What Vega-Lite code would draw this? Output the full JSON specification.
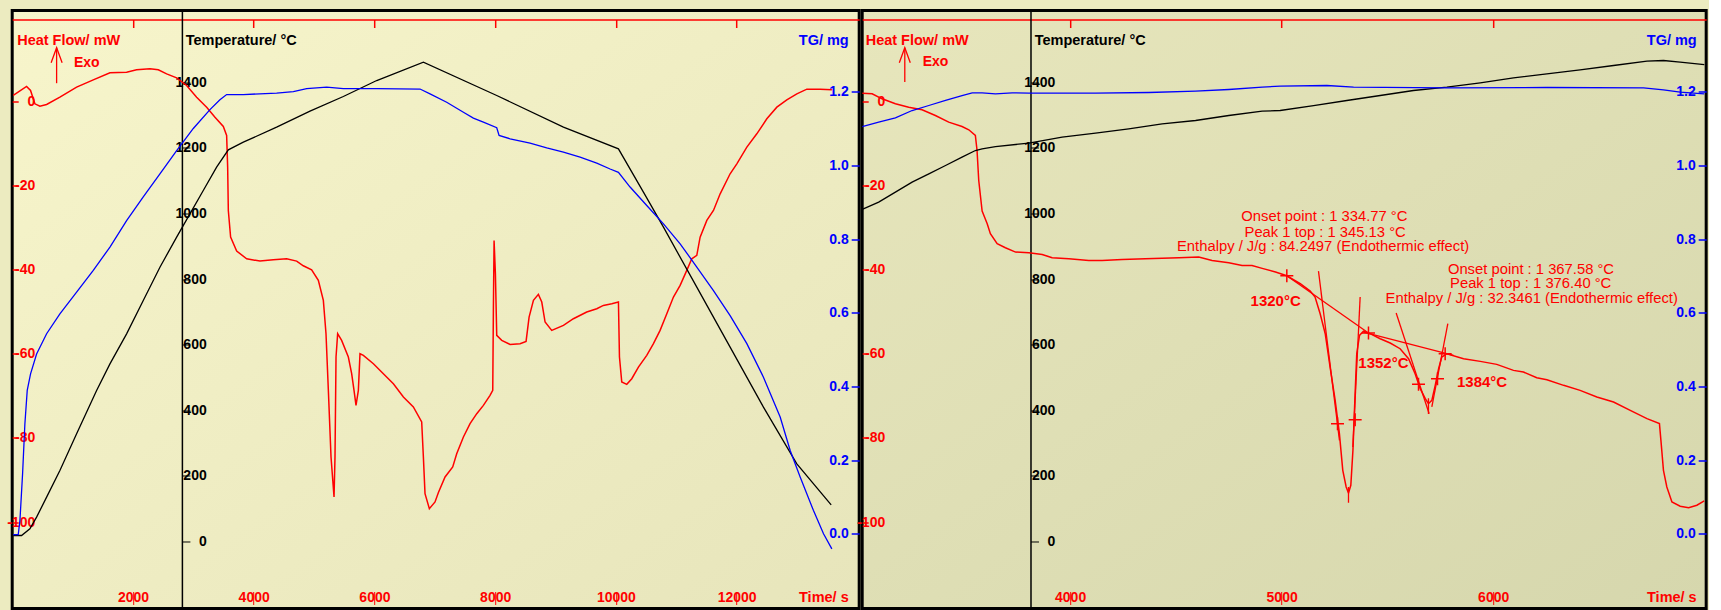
{
  "$schema": "https://vega.github.io/schema/vega-lite/v6.json",
  "background": "#ecebc0",
  "padding": {"left": 4.2, "top": 8.5, "right": 0, "bottom": 0},
  "spacing": 3,
  "bounds": "flush",
  "config": {
    "font": "Liberation Sans",
    "view": {"stroke": "black", "strokeWidth": 3},
    "axis": {
      "grid": false,
      "labelFont": "Liberation Sans",
      "labelFontWeight": "bold",
      "labelFontSize": 14,
      "titleFont": "Liberation Sans",
      "titleFontWeight": "bold",
      "titleFontSize": 14.5,
      "titleAngle": 0,
      "labelFlush": false,
      "labelOverlap": false,
      "minExtent": 0
    }
  },
  "datasets": {
    "l_hf": [
      {"t": 17, "hf": 1.43}, {"t": 238, "hf": 3.57}, {"t": 304, "hf": 2.62}, {"t": 376, "hf": -0.55},
      {"t": 459, "hf": -1.11}, {"t": 570, "hf": -0.71}, {"t": 790, "hf": 1.03}, {"t": 1067, "hf": 3.41},
      {"t": 1343, "hf": 5.15}, {"t": 1619, "hf": 6.81}, {"t": 1895, "hf": 6.97}, {"t": 2061, "hf": 7.53},
      {"t": 2282, "hf": 7.77}, {"t": 2420, "hf": 7.53}, {"t": 2558, "hf": 6.58}, {"t": 2724, "hf": 5.63},
      {"t": 2889, "hf": 3.8}, {"t": 3055, "hf": 1.03}, {"t": 3221, "hf": -1.35}, {"t": 3359, "hf": -3.72},
      {"t": 3497, "hf": -5.94}, {"t": 3552, "hf": -8.08}, {"t": 3569, "hf": -15.61}, {"t": 3580, "hf": -25.91},
      {"t": 3618, "hf": -32.24}, {"t": 3718, "hf": -35.57}, {"t": 3884, "hf": -37.4}, {"t": 4104, "hf": -37.95},
      {"t": 4325, "hf": -37.63}, {"t": 4546, "hf": -37.4}, {"t": 4712, "hf": -37.95}, {"t": 4822, "hf": -39.06},
      {"t": 4960, "hf": -40.01}, {"t": 5071, "hf": -42.55}, {"t": 5154, "hf": -47.3}, {"t": 5198, "hf": -55.22},
      {"t": 5237, "hf": -68.69}, {"t": 5281, "hf": -84.54}, {"t": 5331, "hf": -94.05}, {"t": 5347, "hf": -84.54},
      {"t": 5364, "hf": -60.77}, {"t": 5391, "hf": -55.22}, {"t": 5457, "hf": -56.81}, {"t": 5568, "hf": -60.77},
      {"t": 5623, "hf": -64.73}, {"t": 5662, "hf": -68.69}, {"t": 5695, "hf": -72.26}, {"t": 5734, "hf": -68.69},
      {"t": 5761, "hf": -59.98}, {"t": 5817, "hf": -60.37}, {"t": 5983, "hf": -62.35}, {"t": 6148, "hf": -64.73},
      {"t": 6314, "hf": -67.11}, {"t": 6480, "hf": -70.28}, {"t": 6645, "hf": -72.65}, {"t": 6783, "hf": -76.22},
      {"t": 6811, "hf": -84.54}, {"t": 6838, "hf": -93.25}, {"t": 6910, "hf": -96.82}, {"t": 7004, "hf": -95.24},
      {"t": 7060, "hf": -93.0}, {"t": 7170, "hf": -89.29}, {"t": 7297, "hf": -86.91}, {"t": 7363, "hf": -83.75},
      {"t": 7474, "hf": -79.78}, {"t": 7584, "hf": -76.61}, {"t": 7695, "hf": -74.24}, {"t": 7805, "hf": -72.26},
      {"t": 7915, "hf": -69.88}, {"t": 7960, "hf": -68.69}, {"t": 7971, "hf": -48.88}, {"t": 7982, "hf": -33.04},
      {"t": 8004, "hf": -40.96}, {"t": 8026, "hf": -55.62}, {"t": 8109, "hf": -56.81}, {"t": 8247, "hf": -57.76},
      {"t": 8413, "hf": -57.6}, {"t": 8512, "hf": -57.04}, {"t": 8562, "hf": -51.26}, {"t": 8634, "hf": -47.3},
      {"t": 8716, "hf": -45.87}, {"t": 8772, "hf": -47.69}, {"t": 8827, "hf": -52.45}, {"t": 8937, "hf": -54.43},
      {"t": 9131, "hf": -53.24}, {"t": 9296, "hf": -51.66}, {"t": 9517, "hf": -50.07}, {"t": 9683, "hf": -49.28},
      {"t": 9793, "hf": -48.49}, {"t": 9932, "hf": -48.09}, {"t": 10042, "hf": -47.69}, {"t": 10059, "hf": -60.77},
      {"t": 10097, "hf": -66.71}, {"t": 10180, "hf": -67.27}, {"t": 10263, "hf": -65.92}, {"t": 10373, "hf": -63.15},
      {"t": 10511, "hf": -60.37}, {"t": 10622, "hf": -57.6}, {"t": 10732, "hf": -54.43}, {"t": 10843, "hf": -50.47},
      {"t": 10953, "hf": -46.51}, {"t": 11064, "hf": -43.73}, {"t": 11174, "hf": -40.17}, {"t": 11257, "hf": -37.4},
      {"t": 11340, "hf": -36.6}, {"t": 11395, "hf": -32.25}, {"t": 11506, "hf": -28.28}, {"t": 11616, "hf": -25.91},
      {"t": 11727, "hf": -21.95}, {"t": 11892, "hf": -17.19}, {"t": 12003, "hf": -14.82}, {"t": 12169, "hf": -10.85},
      {"t": 12334, "hf": -7.68}, {"t": 12500, "hf": -4.12}, {"t": 12666, "hf": -1.35}, {"t": 12831, "hf": 0.4},
      {"t": 12997, "hf": 1.82}, {"t": 13163, "hf": 2.93}, {"t": 13383, "hf": 2.93}, {"t": 13577, "hf": 2.77}
    ],
    "l_temp": [
      {"t": 17, "temp": 18.3}, {"t": 155, "temp": 18.3}, {"t": 293, "temp": 38.6}, {"t": 404, "temp": 74.2},
      {"t": 570, "temp": 135.2}, {"t": 790, "temp": 216.4}, {"t": 1067, "temp": 328.2}, {"t": 1398, "temp": 460.3},
      {"t": 1619, "temp": 541.6}, {"t": 1895, "temp": 633.1}, {"t": 2171, "temp": 734.7}, {"t": 2447, "temp": 836.3},
      {"t": 2724, "temp": 927.8}, {"t": 2944, "temp": 998.9}, {"t": 3165, "temp": 1070.1}, {"t": 3386, "temp": 1141.2},
      {"t": 3580, "temp": 1194.1}, {"t": 3828, "temp": 1217.4}, {"t": 4380, "temp": 1263.2}, {"t": 4933, "temp": 1311.9},
      {"t": 5485, "temp": 1356.7}, {"t": 6038, "temp": 1405.4}, {"t": 6811, "temp": 1461.3}, {"t": 8026, "temp": 1359.7},
      {"t": 9131, "temp": 1263.2}, {"t": 10042, "temp": 1197.1}, {"t": 10456, "temp": 1065.0}, {"t": 10788, "temp": 958.3},
      {"t": 11340, "temp": 775.4}, {"t": 11892, "temp": 592.4}, {"t": 12444, "temp": 409.5}, {"t": 12997, "temp": 236.7},
      {"t": 13566, "temp": 111.8}
    ],
    "l_tg": [
      {"t": 17, "tg": -0.002}, {"t": 100, "tg": -0.002}, {"t": 128, "tg": 0.036}, {"t": 172, "tg": 0.163},
      {"t": 210, "tg": 0.298}, {"t": 249, "tg": 0.389}, {"t": 304, "tg": 0.434}, {"t": 404, "tg": 0.488},
      {"t": 570, "tg": 0.543}, {"t": 790, "tg": 0.597}, {"t": 1067, "tg": 0.656}, {"t": 1343, "tg": 0.715},
      {"t": 1619, "tg": 0.778}, {"t": 1895, "tg": 0.85}, {"t": 2171, "tg": 0.914}, {"t": 2447, "tg": 0.977},
      {"t": 2724, "tg": 1.04}, {"t": 3000, "tg": 1.1}, {"t": 3276, "tg": 1.151}, {"t": 3441, "tg": 1.178},
      {"t": 3552, "tg": 1.192}, {"t": 3828, "tg": 1.192}, {"t": 4380, "tg": 1.196}, {"t": 4657, "tg": 1.2},
      {"t": 4878, "tg": 1.208}, {"t": 5209, "tg": 1.212}, {"t": 5485, "tg": 1.208}, {"t": 6038, "tg": 1.208},
      {"t": 6756, "tg": 1.207}, {"t": 6921, "tg": 1.194}, {"t": 7197, "tg": 1.171}, {"t": 7474, "tg": 1.144},
      {"t": 7639, "tg": 1.128}, {"t": 7805, "tg": 1.117}, {"t": 8026, "tg": 1.102}, {"t": 8065, "tg": 1.081},
      {"t": 8247, "tg": 1.072}, {"t": 8578, "tg": 1.06}, {"t": 8854, "tg": 1.047}, {"t": 9131, "tg": 1.036},
      {"t": 9407, "tg": 1.022}, {"t": 9683, "tg": 1.006}, {"t": 9904, "tg": 0.99}, {"t": 10042, "tg": 0.981},
      {"t": 10235, "tg": 0.941}, {"t": 10511, "tg": 0.891}, {"t": 10788, "tg": 0.841}, {"t": 11064, "tg": 0.787},
      {"t": 11340, "tg": 0.724}, {"t": 11616, "tg": 0.66}, {"t": 11892, "tg": 0.592}, {"t": 12169, "tg": 0.516},
      {"t": 12444, "tg": 0.425}, {"t": 12721, "tg": 0.317}, {"t": 12887, "tg": 0.226}, {"t": 13052, "tg": 0.154},
      {"t": 13273, "tg": 0.063}, {"t": 13439, "tg": 0.0}, {"t": 13577, "tg": -0.041}
    ],
    "r_hf": [
      {"t": 3017, "hf": 1.98}, {"t": 3064, "hf": 1.82}, {"t": 3111, "hf": 0.64}, {"t": 3174, "hf": -0.55},
      {"t": 3237, "hf": -1.35}, {"t": 3300, "hf": -1.98}, {"t": 3363, "hf": -3.33}, {"t": 3426, "hf": -4.91},
      {"t": 3489, "hf": -5.94}, {"t": 3521, "hf": -6.73}, {"t": 3552, "hf": -8.08}, {"t": 3560, "hf": -11.65},
      {"t": 3568, "hf": -18.78}, {"t": 3584, "hf": -26.07}, {"t": 3608, "hf": -29.08}, {"t": 3623, "hf": -31.45},
      {"t": 3655, "hf": -33.83}, {"t": 3694, "hf": -34.78}, {"t": 3742, "hf": -35.81}, {"t": 3805, "hf": -35.97},
      {"t": 3868, "hf": -36.37}, {"t": 3915, "hf": -37.16}, {"t": 3994, "hf": -37.4}, {"t": 4088, "hf": -37.79},
      {"t": 4151, "hf": -37.79}, {"t": 4246, "hf": -37.55}, {"t": 4356, "hf": -37.4}, {"t": 4514, "hf": -37.16},
      {"t": 4608, "hf": -37.0}, {"t": 4671, "hf": -37.79}, {"t": 4750, "hf": -38.35}, {"t": 4813, "hf": -38.98},
      {"t": 4860, "hf": -38.98}, {"t": 4908, "hf": -39.69}, {"t": 4971, "hf": -40.56}, {"t": 5024, "hf": -41.44},
      {"t": 5088, "hf": -43.34}, {"t": 5135, "hf": -45.08}, {"t": 5158, "hf": -46.51}, {"t": 5182, "hf": -50.47},
      {"t": 5206, "hf": -55.22}, {"t": 5229, "hf": -63.15}, {"t": 5253, "hf": -71.07}, {"t": 5273, "hf": -78.99},
      {"t": 5289, "hf": -87.71}, {"t": 5305, "hf": -91.67}, {"t": 5316, "hf": -93.09}, {"t": 5327, "hf": -91.27},
      {"t": 5337, "hf": -82.95}, {"t": 5346, "hf": -71.07}, {"t": 5355, "hf": -59.98}, {"t": 5368, "hf": -55.62},
      {"t": 5387, "hf": -54.59}, {"t": 5418, "hf": -55.22}, {"t": 5466, "hf": -56.41}, {"t": 5513, "hf": -57.44},
      {"t": 5560, "hf": -58.79}, {"t": 5600, "hf": -61.16}, {"t": 5631, "hf": -64.73}, {"t": 5655, "hf": -68.29},
      {"t": 5679, "hf": -70.67}, {"t": 5694, "hf": -71.86}, {"t": 5710, "hf": -71.07}, {"t": 5726, "hf": -67.5},
      {"t": 5742, "hf": -63.54}, {"t": 5757, "hf": -60.77}, {"t": 5781, "hf": -59.98}, {"t": 5860, "hf": -61.16},
      {"t": 5939, "hf": -61.8}, {"t": 6017, "hf": -62.51}, {"t": 6096, "hf": -63.94}, {"t": 6143, "hf": -64.33},
      {"t": 6206, "hf": -65.68}, {"t": 6254, "hf": -66.16}, {"t": 6333, "hf": -67.5}, {"t": 6411, "hf": -68.69},
      {"t": 6490, "hf": -70.28}, {"t": 6569, "hf": -71.46}, {"t": 6648, "hf": -73.45}, {"t": 6727, "hf": -75.43},
      {"t": 6786, "hf": -76.61}, {"t": 6793, "hf": -80.58}, {"t": 6805, "hf": -87.71}, {"t": 6821, "hf": -91.67},
      {"t": 6845, "hf": -95.23}, {"t": 6884, "hf": -96.26}, {"t": 6924, "hf": -96.58}, {"t": 6963, "hf": -96.02},
      {"t": 6998, "hf": -94.99}
    ],
    "r_temp": [
      {"t": 3017, "temp": 1012.2}, {"t": 3095, "temp": 1034.5}, {"t": 3174, "temp": 1065.0}, {"t": 3253, "temp": 1095.5},
      {"t": 3332, "temp": 1120.9}, {"t": 3411, "temp": 1146.3}, {"t": 3489, "temp": 1171.7}, {"t": 3552, "temp": 1192.0},
      {"t": 3584, "temp": 1197.1}, {"t": 3647, "temp": 1204.2}, {"t": 3805, "temp": 1214.4}, {"t": 3962, "temp": 1232.7},
      {"t": 4120, "temp": 1244.9}, {"t": 4277, "temp": 1258.1}, {"t": 4435, "temp": 1273.3}, {"t": 4593, "temp": 1283.5},
      {"t": 4750, "temp": 1298.8}, {"t": 4908, "temp": 1312.0}, {"t": 4993, "temp": 1314.0}, {"t": 5151, "temp": 1329.2},
      {"t": 5308, "temp": 1344.5}, {"t": 5466, "temp": 1359.7}, {"t": 5623, "temp": 1375.0}, {"t": 5781, "temp": 1385.1},
      {"t": 5939, "temp": 1398.3}, {"t": 6096, "temp": 1413.6}, {"t": 6254, "temp": 1425.8}, {"t": 6411, "temp": 1438.0},
      {"t": 6569, "temp": 1451.2}, {"t": 6727, "temp": 1464.4}, {"t": 6805, "temp": 1466.4}, {"t": 6884, "temp": 1461.3},
      {"t": 6998, "temp": 1454.2}
    ],
    "r_tg": [
      {"t": 3017, "tg": 1.1053}, {"t": 3095, "tg": 1.1171}, {"t": 3174, "tg": 1.1288}, {"t": 3253, "tg": 1.1487},
      {"t": 3332, "tg": 1.1623}, {"t": 3411, "tg": 1.1759}, {"t": 3489, "tg": 1.1894}, {"t": 3537, "tg": 1.1967},
      {"t": 3584, "tg": 1.1967}, {"t": 3647, "tg": 1.194}, {"t": 3726, "tg": 1.1967}, {"t": 3805, "tg": 1.1958},
      {"t": 4120, "tg": 1.1958}, {"t": 4372, "tg": 1.1976}, {"t": 4593, "tg": 1.2012}, {"t": 4750, "tg": 1.2057},
      {"t": 4908, "tg": 1.2121}, {"t": 4993, "tg": 1.2148}, {"t": 5214, "tg": 1.2166}, {"t": 5340, "tg": 1.2121},
      {"t": 5781, "tg": 1.2103}, {"t": 6254, "tg": 1.2112}, {"t": 6711, "tg": 1.2103}, {"t": 6805, "tg": 1.2048},
      {"t": 6884, "tg": 1.1985}, {"t": 6998, "tg": 1.194}
    ],
    "l_arrow": [
      {"part": "shaft", "t": 735.7, "hf": 4.35}, {"part": "shaft", "t": 735.7, "hf": 12.8},
      {"part": "head", "t": 645, "hf": 9.2}, {"part": "head", "t": 735.7, "hf": 12.8}, {"part": "head", "t": 827, "hf": 9.2}
    ],
    "r_arrow": [
      {"part": "shaft", "t": 3218.4, "hf": 4.66}, {"part": "shaft", "t": 3218.4, "hf": 12.8},
      {"part": "head", "t": 3192.4, "hf": 9.2}, {"part": "head", "t": 3218.4, "hf": 12.8}, {"part": "head", "t": 3244.4, "hf": 9.2}
    ],
    "l_exo": [{"t": 1022, "hf": 9.1, "txt": "Exo"}],
    "r_exo": [{"t": 3303, "hf": 9.5, "txt": "Exo"}],
    "r_notes": [
      {"t": 5202, "hf": -27.4, "txt": "Onset point : 1 334.77  °C"},
      {"t": 5205.6, "hf": -31.2, "txt": "Peak 1 top : 1 345.13  °C"},
      {"t": 5196, "hf": -34.7, "txt": "Enthalpy / J/g : 84.2497 (Endothermic effect)"},
      {"t": 6178.7, "hf": -40.1, "txt": "Onset point : 1 367.58  °C"},
      {"t": 6177.3, "hf": -43.4, "txt": "Peak 1 top : 1 376.40  °C"},
      {"t": 6182, "hf": -47.0, "txt": "Enthalpy / J/g : 32.3461 (Endothermic effect)"}
    ],
    "r_peaks": [
      {"t": 4971.6, "hf": -47.49, "txt": "1320°C"},
      {"t": 5481, "hf": -62.16, "txt": "1352°C"},
      {"t": 5947.5, "hf": -66.79, "txt": "1384°C"}
    ],
    "r_segs": [
      {"seg": "L1", "t": 5174.1, "hf": -40.33}, {"seg": "L1", "t": 5273.4, "hf": -80.58},
      {"seg": "L2", "t": 5336.5, "hf": -82.16}, {"seg": "L2", "t": 5371.1, "hf": -46.51},
      {"seg": "L3", "t": 5541.3, "hf": -50.31}, {"seg": "L3", "t": 5697.4, "hf": -74.24},
      {"seg": "L4", "t": 5710, "hf": -72.65}, {"seg": "L4", "t": 5785.6, "hf": -52.85},
      {"seg": "B1", "t": 5024.4, "hf": -41.44}, {"seg": "B1", "t": 5410.5, "hf": -55.06},
      {"seg": "B2", "t": 5386.9, "hf": -54.82}, {"seg": "B2", "t": 5812.4, "hf": -60.37},
      {"seg": "P1", "t": 5316, "hf": -91.7}, {"seg": "P1", "t": 5316.01, "hf": -95.4},
      {"seg": "P2", "t": 5694, "hf": -70.6}, {"seg": "P2", "t": 5694.01, "hf": -74.3}
    ],
    "r_cross": [
      {"t": 5024.4, "hf": -41.44}, {"t": 5410.5, "hf": -55.06}, {"t": 5773, "hf": -59.98},
      {"t": 5264, "hf": -76.61}, {"t": 5347.5, "hf": -75.66}, {"t": 5647, "hf": -67.27}, {"t": 5736.8, "hf": -65.92}
    ]
  },
  "hconcat": [
    {
      "width": 847,
      "height": 598,
      "view": {"fill": {"gradient": "linear", "x1": 0, "y1": 0, "x2": 1, "y2": 1, "stops": [{"offset": 0, "color": "#f7f5cb"}, {"offset": 1, "color": "#e7e5bb"}]}},
      "resolve": {"scale": {"y": "independent"}, "axis": {"x": "independent"}},
      "layer": [
        {
          "data": {"name": "l_hf"},
          "mark": {"type": "line", "color": "#ff0000", "strokeWidth": 1.5, "clip": true},
          "encoding": {
            "x": {"field": "t", "type": "quantitative", "scale": {"domain": [0, 14030], "nice": false, "zero": false},
              "axis": {"orient": "bottom", "offset": -17, "values": [2000, 4000, 6000, 8000, 10000, 12000], "format": "d",
                "domain": false, "tickSize": 13, "tickColor": "#ff0000", "tickWidth": 1, "labelPadding": -7,
                "labelBaseline": "middle", "labelColor": "#ff0000", "title": "Time/ s", "titleColor": "#ff0000",
                "titleX": 836, "titleY": 6, "titleAlign": "right", "titleBaseline": "middle"}},
            "y": {"field": "hf", "type": "quantitative", "scale": {"domain": [-120.57, 21.64], "nice": false, "zero": false},
              "axis": {"orient": "right", "offset": -847, "values": [0, -20, -40, -60, -80, -100], "labelExpr": "datum.value + ''",
                "domain": false, "tickSize": 6, "tickColor": "#ff0000", "tickWidth": 1.5, "labelAlign": "right",
                "labelBaseline": "middle", "labelPadding": 16.5, "labelColor": "#ff0000", "title": "Heat Flow/ mW",
                "titleColor": "#ff0000", "titleX": 4.5, "titleY": 34, "titleAlign": "left", "titleBaseline": "alphabetic"}}
          }
        },
        {
          "data": {"name": "l_arrow"},
          "mark": {"type": "line", "color": "#ff0000", "strokeWidth": 1.3},
          "encoding": {
            "x": {"field": "t", "type": "quantitative", "axis": null},
            "y": {"field": "hf", "type": "quantitative", "scale": {"domain": [-120.57, 21.64], "nice": false, "zero": false}, "axis": null},
            "detail": {"field": "part"}
          }
        },
        {
          "data": {"name": "l_exo"},
          "mark": {"type": "text", "color": "#ff0000", "font": "Liberation Sans", "fontWeight": "bold", "fontSize": 14, "align": "left", "baseline": "middle"},
          "encoding": {
            "x": {"field": "t", "type": "quantitative", "axis": null},
            "y": {"field": "hf", "type": "quantitative", "scale": {"domain": [-120.57, 21.64], "nice": false, "zero": false}, "axis": null},
            "text": {"field": "txt"}
          }
        },
        {
          "data": {"name": "l_temp"},
          "mark": {"type": "line", "color": "black", "strokeWidth": 1.3, "clip": true},
          "encoding": {
            "x": {"field": "t", "type": "quantitative", "scale": {"domain": [0, 14030], "nice": false, "zero": false},
              "axis": {"orient": "top", "offset": -9, "values": [2000, 4000, 6000, 8000, 10000, 12000], "domain": true,
                "domainColor": "#ff0000", "domainWidth": 1.5, "tickSize": -8, "tickColor": "#ff0000", "tickWidth": 1.5,
                "labels": false, "title": null}},
            "y": {"field": "temp", "type": "quantitative", "scale": {"domain": [-204.3, 1618.9], "nice": false, "zero": false},
              "axis": {"orient": "right", "offset": -677.3, "values": [0, 200, 400, 600, 800, 1000, 1200, 1400], "format": "d",
                "domain": true, "domainColor": "black", "domainWidth": 1.5, "tickSize": 8, "tickColor": "black",
                "labelAlign": "right", "labelBaseline": "middle", "labelPadding": 16.3, "labelColor": "black",
                "title": "Temperature/ °C", "titleColor": "black", "titleX": 3.3, "titleY": 34, "titleAlign": "left", "titleBaseline": "alphabetic"}}
          }
        },
        {
          "data": {"name": "l_tg"},
          "mark": {"type": "line", "color": "#0000ff", "strokeWidth": 1.3, "clip": true},
          "encoding": {
            "x": {"field": "t", "type": "quantitative", "scale": {"domain": [0, 14030], "nice": false, "zero": false}, "axis": null},
            "y": {"field": "tg", "type": "quantitative", "scale": {"domain": [-0.2027, 1.4201], "nice": false, "zero": false},
              "axis": {"orient": "left", "offset": -847, "values": [0, 0.2, 0.4, 0.6, 0.8, 1.0, 1.2], "format": ".1f",
                "domain": false, "tickSize": 8, "tickColor": "#0000ff", "tickWidth": 1.5, "labelAlign": "right",
                "labelBaseline": "middle", "labelPadding": 3, "labelColor": "#0000ff", "title": "TG/ mg",
                "titleColor": "#0000ff", "titleX": -11, "titleY": 34, "titleAlign": "right", "titleBaseline": "alphabetic"}}
          }
        }
      ]
    },
    {
      "width": 844,
      "height": 598,
      "view": {"fill": {"gradient": "linear", "x1": 0, "y1": 0, "x2": 1, "y2": 1, "stops": [{"offset": 0, "color": "#e7e6bc"}, {"offset": 1, "color": "#d6d7ad"}]}},
      "resolve": {"scale": {"y": "independent"}, "axis": {"x": "independent"}},
      "layer": [
        {
          "data": {"name": "r_hf"},
          "mark": {"type": "line", "color": "#ff0000", "strokeWidth": 1.5, "clip": true},
          "encoding": {
            "x": {"field": "t", "type": "quantitative", "scale": {"domain": [3017, 7007], "nice": false, "zero": false},
              "axis": {"orient": "bottom", "offset": -17, "values": [4000, 5000, 6000], "format": "d",
                "domain": false, "tickSize": 13, "tickColor": "#ff0000", "tickWidth": 1, "labelPadding": -7,
                "labelBaseline": "middle", "labelColor": "#ff0000", "title": "Time/ s", "titleColor": "#ff0000",
                "titleX": 834, "titleY": 6, "titleAlign": "right", "titleBaseline": "middle"}},
            "y": {"field": "hf", "type": "quantitative", "scale": {"domain": [-120.57, 21.64], "nice": false, "zero": false},
              "axis": {"orient": "right", "offset": -844, "values": [0, -20, -40, -60, -80, -100], "labelExpr": "datum.value + ''",
                "domain": false, "tickSize": 6, "tickColor": "#ff0000", "tickWidth": 1.5, "labelAlign": "right",
                "labelBaseline": "middle", "labelPadding": 16.5, "labelColor": "#ff0000", "title": "Heat Flow/ mW",
                "titleColor": "#ff0000", "titleX": 3, "titleY": 34, "titleAlign": "left", "titleBaseline": "alphabetic"}}
          }
        },
        {
          "data": {"name": "r_segs"},
          "mark": {"type": "line", "color": "#ff0000", "strokeWidth": 1.3, "clip": true},
          "encoding": {
            "x": {"field": "t", "type": "quantitative", "axis": null},
            "y": {"field": "hf", "type": "quantitative", "scale": {"domain": [-120.57, 21.64], "nice": false, "zero": false}, "axis": null},
            "detail": {"field": "seg"}
          }
        },
        {
          "data": {"name": "r_cross"},
          "mark": {"type": "point", "shape": "M-1,0L1,0M0,-1L0,1", "filled": false, "color": "#ff0000", "strokeWidth": 1.5, "size": 169, "opacity": 1},
          "encoding": {
            "x": {"field": "t", "type": "quantitative", "axis": null},
            "y": {"field": "hf", "type": "quantitative", "scale": {"domain": [-120.57, 21.64], "nice": false, "zero": false}, "axis": null}
          }
        },
        {
          "data": {"name": "r_arrow"},
          "mark": {"type": "line", "color": "#ff0000", "strokeWidth": 1.3},
          "encoding": {
            "x": {"field": "t", "type": "quantitative", "axis": null},
            "y": {"field": "hf", "type": "quantitative", "scale": {"domain": [-120.57, 21.64], "nice": false, "zero": false}, "axis": null},
            "detail": {"field": "part"}
          }
        },
        {
          "data": {"name": "r_exo"},
          "mark": {"type": "text", "color": "#ff0000", "font": "Liberation Sans", "fontWeight": "bold", "fontSize": 14, "align": "left", "baseline": "middle"},
          "encoding": {
            "x": {"field": "t", "type": "quantitative", "axis": null},
            "y": {"field": "hf", "type": "quantitative", "scale": {"domain": [-120.57, 21.64], "nice": false, "zero": false}, "axis": null},
            "text": {"field": "txt"}
          }
        },
        {
          "data": {"name": "r_notes"},
          "mark": {"type": "text", "color": "#ff0000", "font": "Liberation Sans", "fontSize": 14.8, "align": "center", "baseline": "middle"},
          "encoding": {
            "x": {"field": "t", "type": "quantitative", "axis": null},
            "y": {"field": "hf", "type": "quantitative", "scale": {"domain": [-120.57, 21.64], "nice": false, "zero": false}, "axis": null},
            "text": {"field": "txt"}
          }
        },
        {
          "data": {"name": "r_peaks"},
          "mark": {"type": "text", "color": "#ff0000", "font": "Liberation Sans", "fontWeight": "bold", "fontSize": 15, "align": "center", "baseline": "middle"},
          "encoding": {
            "x": {"field": "t", "type": "quantitative", "axis": null},
            "y": {"field": "hf", "type": "quantitative", "scale": {"domain": [-120.57, 21.64], "nice": false, "zero": false}, "axis": null},
            "text": {"field": "txt"}
          }
        },
        {
          "data": {"name": "r_temp"},
          "mark": {"type": "line", "color": "black", "strokeWidth": 1.3, "clip": true},
          "encoding": {
            "x": {"field": "t", "type": "quantitative", "scale": {"domain": [3017, 7007], "nice": false, "zero": false},
              "axis": {"orient": "top", "offset": -9, "values": [4000, 5000, 6000], "domain": true,
                "domainColor": "#ff0000", "domainWidth": 1.5, "tickSize": -8, "tickColor": "#ff0000", "tickWidth": 1.5,
                "labels": false, "title": null}},
            "y": {"field": "temp", "type": "quantitative", "scale": {"domain": [-204.3, 1618.9], "nice": false, "zero": false},
              "axis": {"orient": "right", "offset": -675.7, "values": [0, 200, 400, 600, 800, 1000, 1200, 1400], "format": "d",
                "domain": true, "domainColor": "black", "domainWidth": 1.5, "tickSize": 8, "tickColor": "black",
                "labelAlign": "right", "labelBaseline": "middle", "labelPadding": 16.3, "labelColor": "black",
                "title": "Temperature/ °C", "titleColor": "black", "titleX": 3.7, "titleY": 34, "titleAlign": "left", "titleBaseline": "alphabetic"}}
          }
        },
        {
          "data": {"name": "r_tg"},
          "mark": {"type": "line", "color": "#0000ff", "strokeWidth": 1.3, "clip": true},
          "encoding": {
            "x": {"field": "t", "type": "quantitative", "scale": {"domain": [3017, 7007], "nice": false, "zero": false}, "axis": null},
            "y": {"field": "tg", "type": "quantitative", "scale": {"domain": [-0.2027, 1.4201], "nice": false, "zero": false},
              "axis": {"orient": "left", "offset": -844, "values": [0, 0.2, 0.4, 0.6, 0.8, 1.0, 1.2], "format": ".1f",
                "domain": false, "tickSize": 8, "tickColor": "#0000ff", "tickWidth": 1.5, "labelAlign": "right",
                "labelBaseline": "middle", "labelPadding": 3, "labelColor": "#0000ff", "title": "TG/ mg",
                "titleColor": "#0000ff", "titleX": -10, "titleY": 34, "titleAlign": "right", "titleBaseline": "alphabetic"}}
          }
        }
      ]
    }
  ]
}
